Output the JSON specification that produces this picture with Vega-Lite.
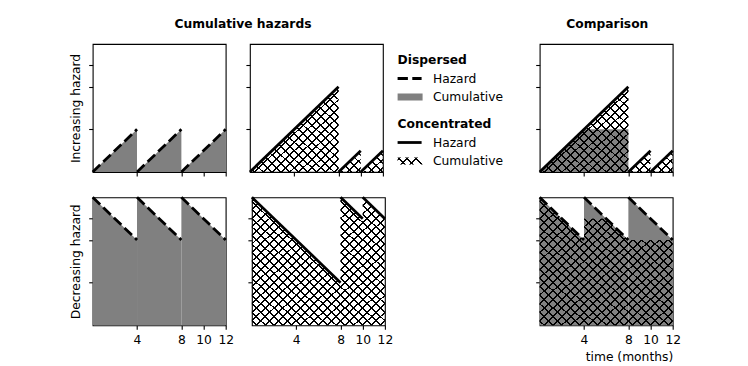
{
"$schema":"https://vega.github.io/schema/vega-lite/v6.json",
"background":"white",
"padding":{"left":67.7,"top":18,"right":5,"bottom":5},
"datasets":{
"dispInc":[{"seg":1,"t":0,"h":0},{"seg":1,"t":4,"h":1},{"seg":2,"t":4,"h":0},{"seg":2,"t":8,"h":1},{"seg":3,"t":8,"h":0},{"seg":3,"t":12,"h":1}],
"dispDec":[{"seg":1,"t":0,"h":3},{"seg":1,"t":4,"h":2},{"seg":2,"t":4,"h":3},{"seg":2,"t":8,"h":2},{"seg":3,"t":8,"h":3},{"seg":3,"t":12,"h":2}],
"concInc":[{"seg":1,"t":0,"h":0},{"seg":1,"t":8,"h":2},{"seg":2,"t":8,"h":0},{"seg":2,"t":10,"h":0.5},{"seg":3,"t":10,"h":0},{"seg":3,"t":12,"h":0.5}],
"concDec":[{"seg":1,"t":0,"h":3},{"seg":1,"t":8,"h":1},{"seg":2,"t":8,"h":3},{"seg":2,"t":10,"h":2.5},{"seg":3,"t":10,"h":3},{"seg":3,"t":12,"h":2.5}],
"cmpInc":[{"t":0,"h":0},{"t":4,"h":1},{"t":8,"h":1}],
"cmpDec":[{"t":0,"h":3},{"t":4,"h":2},{"t":4,"h":2.5},{"t":6,"h":2.5},{"t":8,"h":2},{"t":12,"h":2}],
"legD":[{"slot":"title","label":"Dispersed"},{"slot":"haz","label":"Hazard"},{"slot":"cum","label":"Cumulative"}],
"legC":[{"slot":"title","label":"Concentrated"},{"slot":"haz","label":"Hazard"},{"slot":"cum","label":"Cumulative"}]
},
"config":{
"font":"DejaVu Sans",
"view":{"stroke":"black","strokeWidth":1.1},
"axis":{"domain":false,"grid":false,"tickColor":"black","tickWidth":1.1,"tickSize":4,"labelFont":"DejaVu Sans","labelFontSize":12.3,"labelColor":"black","labelPadding":4,"labelOverlap":false,"labelFlush":false,"titleFont":"DejaVu Sans","titleFontSize":12.3,"titleFontWeight":"normal","titleColor":"black","titlePadding":6},
"title":{"font":"DejaVu Sans","fontSize":12.3,"fontWeight":"bold","color":"black","anchor":"middle","offset":13},
"text":{"font":"DejaVu Sans","fontSize":12.3,"color":"black"}
},
"spacing":1,
"hconcat":[
{"title":{"text":"Cumulative hazards","dx":12},"spacing":11.3,"vconcat":[
 {"spacing":10.2,"hconcat":[
  {"width":133,"height":128,"data":{"name":"dispInc"},
   "encoding":{"x":{"field":"t","type":"quantitative","scale":{"domain":[0,12],"nice":false},"axis":{"values":[4,8,10,12],"labels":false,"title":null}},
     "y":{"field":"h","type":"quantitative","stack":null,"scale":{"domain":[0,3],"nice":false},"axis":{"values":[1,2,2.5],"labels":false,"title":"Increasing hazard"}}},
   "layer":[
    {"mark":{"type":"area","fill":"#808080"},"encoding":{"detail":{"field":"seg"}}},
    {"mark":{"type":"line","color":"black","strokeWidth":2.78,"strokeDash":[10.3,4.4],"strokeCap":"butt"},"encoding":{"detail":{"field":"seg"}}}
   ]},
  {"width":133,"height":128,"data":{"name":"concInc"},
   "encoding":{"x":{"field":"t","type":"quantitative","scale":{"domain":[0,12],"nice":false},"axis":{"values":[4,8,10,12],"labels":false,"title":null}},
     "y":{"field":"h","type":"quantitative","stack":null,"scale":{"domain":[0,3],"nice":false},"axis":{"values":[1,2,2.5],"labels":false,"title":null}}},
   "layer":[
    {"transform":[{"filter":"datum.seg === 1"}],"mark":{"type":"area","fill":{"gradient":"linear","x1":0,"y1":0,"x2":1,"y2":1,"stops":[
{"offset":0.02,"color":"transparent"},{"offset":0.02,"color":"#000"},{"offset":0.031,"color":"#000"},{"offset":0.031,"color":"transparent"},
{"offset":0.07,"color":"transparent"},{"offset":0.07,"color":"#000"},{"offset":0.081,"color":"#000"},{"offset":0.081,"color":"transparent"},
{"offset":0.12,"color":"transparent"},{"offset":0.12,"color":"#000"},{"offset":0.131,"color":"#000"},{"offset":0.131,"color":"transparent"},
{"offset":0.17,"color":"transparent"},{"offset":0.17,"color":"#000"},{"offset":0.181,"color":"#000"},{"offset":0.181,"color":"transparent"},
{"offset":0.22,"color":"transparent"},{"offset":0.22,"color":"#000"},{"offset":0.231,"color":"#000"},{"offset":0.231,"color":"transparent"},
{"offset":0.27,"color":"transparent"},{"offset":0.27,"color":"#000"},{"offset":0.281,"color":"#000"},{"offset":0.281,"color":"transparent"},
{"offset":0.32,"color":"transparent"},{"offset":0.32,"color":"#000"},{"offset":0.331,"color":"#000"},{"offset":0.331,"color":"transparent"},
{"offset":0.37,"color":"transparent"},{"offset":0.37,"color":"#000"},{"offset":0.381,"color":"#000"},{"offset":0.381,"color":"transparent"},
{"offset":0.42,"color":"transparent"},{"offset":0.42,"color":"#000"},{"offset":0.431,"color":"#000"},{"offset":0.431,"color":"transparent"},
{"offset":0.47,"color":"transparent"},{"offset":0.47,"color":"#000"},{"offset":0.481,"color":"#000"},{"offset":0.481,"color":"transparent"},
{"offset":0.52,"color":"transparent"},{"offset":0.52,"color":"#000"},{"offset":0.531,"color":"#000"},{"offset":0.531,"color":"transparent"},
{"offset":0.57,"color":"transparent"},{"offset":0.57,"color":"#000"},{"offset":0.581,"color":"#000"},{"offset":0.581,"color":"transparent"},
{"offset":0.62,"color":"transparent"},{"offset":0.62,"color":"#000"},{"offset":0.631,"color":"#000"},{"offset":0.631,"color":"transparent"},
{"offset":0.67,"color":"transparent"},{"offset":0.67,"color":"#000"},{"offset":0.681,"color":"#000"},{"offset":0.681,"color":"transparent"},
{"offset":0.72,"color":"transparent"},{"offset":0.72,"color":"#000"},{"offset":0.731,"color":"#000"},{"offset":0.731,"color":"transparent"},
{"offset":0.77,"color":"transparent"},{"offset":0.77,"color":"#000"},{"offset":0.781,"color":"#000"},{"offset":0.781,"color":"transparent"},
{"offset":0.82,"color":"transparent"},{"offset":0.82,"color":"#000"},{"offset":0.831,"color":"#000"},{"offset":0.831,"color":"transparent"},
{"offset":0.87,"color":"transparent"},{"offset":0.87,"color":"#000"},{"offset":0.881,"color":"#000"},{"offset":0.881,"color":"transparent"},
{"offset":0.92,"color":"transparent"},{"offset":0.92,"color":"#000"},{"offset":0.931,"color":"#000"},{"offset":0.931,"color":"transparent"},
{"offset":0.97,"color":"transparent"},{"offset":0.97,"color":"#000"},{"offset":0.981,"color":"#000"},{"offset":0.981,"color":"transparent"}]}}},
    {"transform":[{"filter":"datum.seg === 1"}],"mark":{"type":"area","fill":{"gradient":"linear","x1":1,"y1":0,"x2":0,"y2":1,"stops":[
{"offset":0.02,"color":"transparent"},{"offset":0.02,"color":"#000"},{"offset":0.031,"color":"#000"},{"offset":0.031,"color":"transparent"},
{"offset":0.07,"color":"transparent"},{"offset":0.07,"color":"#000"},{"offset":0.081,"color":"#000"},{"offset":0.081,"color":"transparent"},
{"offset":0.12,"color":"transparent"},{"offset":0.12,"color":"#000"},{"offset":0.131,"color":"#000"},{"offset":0.131,"color":"transparent"},
{"offset":0.17,"color":"transparent"},{"offset":0.17,"color":"#000"},{"offset":0.181,"color":"#000"},{"offset":0.181,"color":"transparent"},
{"offset":0.22,"color":"transparent"},{"offset":0.22,"color":"#000"},{"offset":0.231,"color":"#000"},{"offset":0.231,"color":"transparent"},
{"offset":0.27,"color":"transparent"},{"offset":0.27,"color":"#000"},{"offset":0.281,"color":"#000"},{"offset":0.281,"color":"transparent"},
{"offset":0.32,"color":"transparent"},{"offset":0.32,"color":"#000"},{"offset":0.331,"color":"#000"},{"offset":0.331,"color":"transparent"},
{"offset":0.37,"color":"transparent"},{"offset":0.37,"color":"#000"},{"offset":0.381,"color":"#000"},{"offset":0.381,"color":"transparent"},
{"offset":0.42,"color":"transparent"},{"offset":0.42,"color":"#000"},{"offset":0.431,"color":"#000"},{"offset":0.431,"color":"transparent"},
{"offset":0.47,"color":"transparent"},{"offset":0.47,"color":"#000"},{"offset":0.481,"color":"#000"},{"offset":0.481,"color":"transparent"},
{"offset":0.52,"color":"transparent"},{"offset":0.52,"color":"#000"},{"offset":0.531,"color":"#000"},{"offset":0.531,"color":"transparent"},
{"offset":0.57,"color":"transparent"},{"offset":0.57,"color":"#000"},{"offset":0.581,"color":"#000"},{"offset":0.581,"color":"transparent"},
{"offset":0.62,"color":"transparent"},{"offset":0.62,"color":"#000"},{"offset":0.631,"color":"#000"},{"offset":0.631,"color":"transparent"},
{"offset":0.67,"color":"transparent"},{"offset":0.67,"color":"#000"},{"offset":0.681,"color":"#000"},{"offset":0.681,"color":"transparent"},
{"offset":0.72,"color":"transparent"},{"offset":0.72,"color":"#000"},{"offset":0.731,"color":"#000"},{"offset":0.731,"color":"transparent"},
{"offset":0.77,"color":"transparent"},{"offset":0.77,"color":"#000"},{"offset":0.781,"color":"#000"},{"offset":0.781,"color":"transparent"},
{"offset":0.82,"color":"transparent"},{"offset":0.82,"color":"#000"},{"offset":0.831,"color":"#000"},{"offset":0.831,"color":"transparent"},
{"offset":0.87,"color":"transparent"},{"offset":0.87,"color":"#000"},{"offset":0.881,"color":"#000"},{"offset":0.881,"color":"transparent"},
{"offset":0.92,"color":"transparent"},{"offset":0.92,"color":"#000"},{"offset":0.931,"color":"#000"},{"offset":0.931,"color":"transparent"},
{"offset":0.97,"color":"transparent"},{"offset":0.97,"color":"#000"},{"offset":0.981,"color":"#000"},{"offset":0.981,"color":"transparent"}]}}},
    {"transform":[{"filter":"datum.seg > 1"}],"mark":{"type":"area","fill":{"gradient":"linear","x1":0,"y1":0,"x2":1,"y2":1,"stops":[
{"offset":0.08,"color":"transparent"},{"offset":0.08,"color":"#000"},{"offset":0.124,"color":"#000"},{"offset":0.124,"color":"transparent"},
{"offset":0.28,"color":"transparent"},{"offset":0.28,"color":"#000"},{"offset":0.324,"color":"#000"},{"offset":0.324,"color":"transparent"},
{"offset":0.48,"color":"transparent"},{"offset":0.48,"color":"#000"},{"offset":0.524,"color":"#000"},{"offset":0.524,"color":"transparent"},
{"offset":0.68,"color":"transparent"},{"offset":0.68,"color":"#000"},{"offset":0.724,"color":"#000"},{"offset":0.724,"color":"transparent"},
{"offset":0.88,"color":"transparent"},{"offset":0.88,"color":"#000"},{"offset":0.924,"color":"#000"},{"offset":0.924,"color":"transparent"}]}},"encoding":{"detail":{"field":"seg"}}},
    {"transform":[{"filter":"datum.seg > 1"}],"mark":{"type":"area","fill":{"gradient":"linear","x1":1,"y1":0,"x2":0,"y2":1,"stops":[
{"offset":0.08,"color":"transparent"},{"offset":0.08,"color":"#000"},{"offset":0.124,"color":"#000"},{"offset":0.124,"color":"transparent"},
{"offset":0.28,"color":"transparent"},{"offset":0.28,"color":"#000"},{"offset":0.324,"color":"#000"},{"offset":0.324,"color":"transparent"},
{"offset":0.48,"color":"transparent"},{"offset":0.48,"color":"#000"},{"offset":0.524,"color":"#000"},{"offset":0.524,"color":"transparent"},
{"offset":0.68,"color":"transparent"},{"offset":0.68,"color":"#000"},{"offset":0.724,"color":"#000"},{"offset":0.724,"color":"transparent"},
{"offset":0.88,"color":"transparent"},{"offset":0.88,"color":"#000"},{"offset":0.924,"color":"#000"},{"offset":0.924,"color":"transparent"}]}},"encoding":{"detail":{"field":"seg"}}},
    {"mark":{"type":"line","color":"black","strokeWidth":2.78,"strokeCap":"butt"},"encoding":{"detail":{"field":"seg"}}}
   ]}
 ]},
 {"spacing":10.2,"hconcat":[
  {"width":133,"height":128,"data":{"name":"dispDec"},
   "encoding":{"x":{"field":"t","type":"quantitative","scale":{"domain":[0,12],"nice":false},"axis":{"values":[4,8,10,12],"title":null}},
     "y":{"field":"h","type":"quantitative","stack":null,"scale":{"domain":[0,3],"nice":false},"axis":{"values":[1,2,2.5],"labels":false,"title":"Decreasing hazard"}}},
   "layer":[
    {"mark":{"type":"area","fill":"#808080"},"encoding":{"detail":{"field":"seg"}}},
    {"mark":{"type":"line","color":"black","strokeWidth":2.78,"strokeDash":[10.3,4.4],"strokeCap":"butt"},"encoding":{"detail":{"field":"seg"}}}
   ]},
  {"width":133,"height":128,"data":{"name":"concDec"},
   "encoding":{"x":{"field":"t","type":"quantitative","scale":{"domain":[0,12],"nice":false},"axis":{"values":[4,8,10,12],"title":null}},
     "y":{"field":"h","type":"quantitative","stack":null,"scale":{"domain":[0,3],"nice":false},"axis":{"values":[1,2,2.5],"labels":false,"title":null}}},
   "layer":[
    {"mark":{"type":"area","fill":{"gradient":"linear","x1":0,"y1":0,"x2":1,"y2":1,"stops":[
{"offset":0.012,"color":"transparent"},{"offset":0.012,"color":"#000"},{"offset":0.0195,"color":"#000"},{"offset":0.0195,"color":"transparent"},
{"offset":0.0453,"color":"transparent"},{"offset":0.0453,"color":"#000"},{"offset":0.0528,"color":"#000"},{"offset":0.0528,"color":"transparent"},
{"offset":0.0787,"color":"transparent"},{"offset":0.0787,"color":"#000"},{"offset":0.0862,"color":"#000"},{"offset":0.0862,"color":"transparent"},
{"offset":0.112,"color":"transparent"},{"offset":0.112,"color":"#000"},{"offset":0.1195,"color":"#000"},{"offset":0.1195,"color":"transparent"},
{"offset":0.1453,"color":"transparent"},{"offset":0.1453,"color":"#000"},{"offset":0.1528,"color":"#000"},{"offset":0.1528,"color":"transparent"},
{"offset":0.1787,"color":"transparent"},{"offset":0.1787,"color":"#000"},{"offset":0.1862,"color":"#000"},{"offset":0.1862,"color":"transparent"},
{"offset":0.212,"color":"transparent"},{"offset":0.212,"color":"#000"},{"offset":0.2195,"color":"#000"},{"offset":0.2195,"color":"transparent"},
{"offset":0.2453,"color":"transparent"},{"offset":0.2453,"color":"#000"},{"offset":0.2528,"color":"#000"},{"offset":0.2528,"color":"transparent"},
{"offset":0.2787,"color":"transparent"},{"offset":0.2787,"color":"#000"},{"offset":0.2862,"color":"#000"},{"offset":0.2862,"color":"transparent"},
{"offset":0.312,"color":"transparent"},{"offset":0.312,"color":"#000"},{"offset":0.3195,"color":"#000"},{"offset":0.3195,"color":"transparent"},
{"offset":0.3453,"color":"transparent"},{"offset":0.3453,"color":"#000"},{"offset":0.3528,"color":"#000"},{"offset":0.3528,"color":"transparent"},
{"offset":0.3787,"color":"transparent"},{"offset":0.3787,"color":"#000"},{"offset":0.3862,"color":"#000"},{"offset":0.3862,"color":"transparent"},
{"offset":0.412,"color":"transparent"},{"offset":0.412,"color":"#000"},{"offset":0.4195,"color":"#000"},{"offset":0.4195,"color":"transparent"},
{"offset":0.4453,"color":"transparent"},{"offset":0.4453,"color":"#000"},{"offset":0.4528,"color":"#000"},{"offset":0.4528,"color":"transparent"},
{"offset":0.4787,"color":"transparent"},{"offset":0.4787,"color":"#000"},{"offset":0.4862,"color":"#000"},{"offset":0.4862,"color":"transparent"},
{"offset":0.512,"color":"transparent"},{"offset":0.512,"color":"#000"},{"offset":0.5195,"color":"#000"},{"offset":0.5195,"color":"transparent"},
{"offset":0.5453,"color":"transparent"},{"offset":0.5453,"color":"#000"},{"offset":0.5528,"color":"#000"},{"offset":0.5528,"color":"transparent"},
{"offset":0.5787,"color":"transparent"},{"offset":0.5787,"color":"#000"},{"offset":0.5862,"color":"#000"},{"offset":0.5862,"color":"transparent"},
{"offset":0.612,"color":"transparent"},{"offset":0.612,"color":"#000"},{"offset":0.6195,"color":"#000"},{"offset":0.6195,"color":"transparent"},
{"offset":0.6453,"color":"transparent"},{"offset":0.6453,"color":"#000"},{"offset":0.6528,"color":"#000"},{"offset":0.6528,"color":"transparent"},
{"offset":0.6787,"color":"transparent"},{"offset":0.6787,"color":"#000"},{"offset":0.6862,"color":"#000"},{"offset":0.6862,"color":"transparent"},
{"offset":0.712,"color":"transparent"},{"offset":0.712,"color":"#000"},{"offset":0.7195,"color":"#000"},{"offset":0.7195,"color":"transparent"},
{"offset":0.7453,"color":"transparent"},{"offset":0.7453,"color":"#000"},{"offset":0.7528,"color":"#000"},{"offset":0.7528,"color":"transparent"},
{"offset":0.7787,"color":"transparent"},{"offset":0.7787,"color":"#000"},{"offset":0.7862,"color":"#000"},{"offset":0.7862,"color":"transparent"},
{"offset":0.812,"color":"transparent"},{"offset":0.812,"color":"#000"},{"offset":0.8195,"color":"#000"},{"offset":0.8195,"color":"transparent"},
{"offset":0.8453,"color":"transparent"},{"offset":0.8453,"color":"#000"},{"offset":0.8528,"color":"#000"},{"offset":0.8528,"color":"transparent"},
{"offset":0.8787,"color":"transparent"},{"offset":0.8787,"color":"#000"},{"offset":0.8862,"color":"#000"},{"offset":0.8862,"color":"transparent"},
{"offset":0.912,"color":"transparent"},{"offset":0.912,"color":"#000"},{"offset":0.9195,"color":"#000"},{"offset":0.9195,"color":"transparent"},
{"offset":0.9453,"color":"transparent"},{"offset":0.9453,"color":"#000"},{"offset":0.9528,"color":"#000"},{"offset":0.9528,"color":"transparent"},
{"offset":0.9787,"color":"transparent"},{"offset":0.9787,"color":"#000"},{"offset":0.9862,"color":"#000"},{"offset":0.9862,"color":"transparent"}]}}},
    {"mark":{"type":"area","fill":{"gradient":"linear","x1":1,"y1":0,"x2":0,"y2":1,"stops":[
{"offset":0.012,"color":"transparent"},{"offset":0.012,"color":"#000"},{"offset":0.0195,"color":"#000"},{"offset":0.0195,"color":"transparent"},
{"offset":0.0453,"color":"transparent"},{"offset":0.0453,"color":"#000"},{"offset":0.0528,"color":"#000"},{"offset":0.0528,"color":"transparent"},
{"offset":0.0787,"color":"transparent"},{"offset":0.0787,"color":"#000"},{"offset":0.0862,"color":"#000"},{"offset":0.0862,"color":"transparent"},
{"offset":0.112,"color":"transparent"},{"offset":0.112,"color":"#000"},{"offset":0.1195,"color":"#000"},{"offset":0.1195,"color":"transparent"},
{"offset":0.1453,"color":"transparent"},{"offset":0.1453,"color":"#000"},{"offset":0.1528,"color":"#000"},{"offset":0.1528,"color":"transparent"},
{"offset":0.1787,"color":"transparent"},{"offset":0.1787,"color":"#000"},{"offset":0.1862,"color":"#000"},{"offset":0.1862,"color":"transparent"},
{"offset":0.212,"color":"transparent"},{"offset":0.212,"color":"#000"},{"offset":0.2195,"color":"#000"},{"offset":0.2195,"color":"transparent"},
{"offset":0.2453,"color":"transparent"},{"offset":0.2453,"color":"#000"},{"offset":0.2528,"color":"#000"},{"offset":0.2528,"color":"transparent"},
{"offset":0.2787,"color":"transparent"},{"offset":0.2787,"color":"#000"},{"offset":0.2862,"color":"#000"},{"offset":0.2862,"color":"transparent"},
{"offset":0.312,"color":"transparent"},{"offset":0.312,"color":"#000"},{"offset":0.3195,"color":"#000"},{"offset":0.3195,"color":"transparent"},
{"offset":0.3453,"color":"transparent"},{"offset":0.3453,"color":"#000"},{"offset":0.3528,"color":"#000"},{"offset":0.3528,"color":"transparent"},
{"offset":0.3787,"color":"transparent"},{"offset":0.3787,"color":"#000"},{"offset":0.3862,"color":"#000"},{"offset":0.3862,"color":"transparent"},
{"offset":0.412,"color":"transparent"},{"offset":0.412,"color":"#000"},{"offset":0.4195,"color":"#000"},{"offset":0.4195,"color":"transparent"},
{"offset":0.4453,"color":"transparent"},{"offset":0.4453,"color":"#000"},{"offset":0.4528,"color":"#000"},{"offset":0.4528,"color":"transparent"},
{"offset":0.4787,"color":"transparent"},{"offset":0.4787,"color":"#000"},{"offset":0.4862,"color":"#000"},{"offset":0.4862,"color":"transparent"},
{"offset":0.512,"color":"transparent"},{"offset":0.512,"color":"#000"},{"offset":0.5195,"color":"#000"},{"offset":0.5195,"color":"transparent"},
{"offset":0.5453,"color":"transparent"},{"offset":0.5453,"color":"#000"},{"offset":0.5528,"color":"#000"},{"offset":0.5528,"color":"transparent"},
{"offset":0.5787,"color":"transparent"},{"offset":0.5787,"color":"#000"},{"offset":0.5862,"color":"#000"},{"offset":0.5862,"color":"transparent"},
{"offset":0.612,"color":"transparent"},{"offset":0.612,"color":"#000"},{"offset":0.6195,"color":"#000"},{"offset":0.6195,"color":"transparent"},
{"offset":0.6453,"color":"transparent"},{"offset":0.6453,"color":"#000"},{"offset":0.6528,"color":"#000"},{"offset":0.6528,"color":"transparent"},
{"offset":0.6787,"color":"transparent"},{"offset":0.6787,"color":"#000"},{"offset":0.6862,"color":"#000"},{"offset":0.6862,"color":"transparent"},
{"offset":0.712,"color":"transparent"},{"offset":0.712,"color":"#000"},{"offset":0.7195,"color":"#000"},{"offset":0.7195,"color":"transparent"},
{"offset":0.7453,"color":"transparent"},{"offset":0.7453,"color":"#000"},{"offset":0.7528,"color":"#000"},{"offset":0.7528,"color":"transparent"},
{"offset":0.7787,"color":"transparent"},{"offset":0.7787,"color":"#000"},{"offset":0.7862,"color":"#000"},{"offset":0.7862,"color":"transparent"},
{"offset":0.812,"color":"transparent"},{"offset":0.812,"color":"#000"},{"offset":0.8195,"color":"#000"},{"offset":0.8195,"color":"transparent"},
{"offset":0.8453,"color":"transparent"},{"offset":0.8453,"color":"#000"},{"offset":0.8528,"color":"#000"},{"offset":0.8528,"color":"transparent"},
{"offset":0.8787,"color":"transparent"},{"offset":0.8787,"color":"#000"},{"offset":0.8862,"color":"#000"},{"offset":0.8862,"color":"transparent"},
{"offset":0.912,"color":"transparent"},{"offset":0.912,"color":"#000"},{"offset":0.9195,"color":"#000"},{"offset":0.9195,"color":"transparent"},
{"offset":0.9453,"color":"transparent"},{"offset":0.9453,"color":"#000"},{"offset":0.9528,"color":"#000"},{"offset":0.9528,"color":"transparent"},
{"offset":0.9787,"color":"transparent"},{"offset":0.9787,"color":"#000"},{"offset":0.9862,"color":"#000"},{"offset":0.9862,"color":"transparent"}]}}},
    {"mark":{"type":"line","color":"black","strokeWidth":2.78,"strokeCap":"butt"},"encoding":{"detail":{"field":"seg"}}}
   ]}
 ]}
]},
{"spacing":0,"vconcat":[
 {"width":136.6,"height":62,"view":{"stroke":null},"data":{"name":"legD"},
  "encoding":{"y":{"field":"slot","type":"nominal","scale":{"type":"band","domain":["title","haz","cum"],"range":[6.75,62.25],"paddingInner":0.62,"paddingOuter":0.31},"axis":null}},
  "layer":[
   {"transform":[{"filter":"datum.slot === 'title'"}],"mark":{"type":"text","align":"left","baseline":"middle","fontWeight":"bold"},"encoding":{"x":{"value":2.9},"text":{"field":"label"}}},
   {"transform":[{"filter":"datum.slot !== 'title'"}],"mark":{"type":"text","align":"left","baseline":"middle"},"encoding":{"x":{"value":38.2},"text":{"field":"label"}}},
   {"transform":[{"filter":"datum.slot === 'haz'"}],"mark":{"type":"rule","color":"black","strokeWidth":2.78,"strokeDash":[10.3,4.4],"strokeCap":"butt"},"encoding":{"x":{"value":2.9},"x2":{"value":26.9}}},
   {"transform":[{"filter":"datum.slot === 'cum'"}],"mark":{"type":"rect","fill":"#808080"},"encoding":{"x":{"value":2.9},"x2":{"value":27.9}}}
  ]},
 {"width":136.6,"height":70,"view":{"stroke":null},"data":{"name":"legC"},
  "encoding":{"y":{"field":"slot","type":"nominal","scale":{"type":"band","domain":["title","haz","cum"],"range":[8.75,64.25],"paddingInner":0.62,"paddingOuter":0.31},"axis":null}},
  "layer":[
   {"transform":[{"filter":"datum.slot === 'title'"}],"mark":{"type":"text","align":"left","baseline":"middle","fontWeight":"bold"},"encoding":{"x":{"value":2.9},"text":{"field":"label"}}},
   {"transform":[{"filter":"datum.slot !== 'title'"}],"mark":{"type":"text","align":"left","baseline":"middle"},"encoding":{"x":{"value":38.2},"text":{"field":"label"}}},
   {"transform":[{"filter":"datum.slot === 'haz'"}],"mark":{"type":"rule","color":"black","strokeWidth":2.78,"strokeCap":"butt"},"encoding":{"x":{"value":2.9},"x2":{"value":26.9}}},
   {"transform":[{"filter":"datum.slot === 'cum'"}],"mark":{"type":"rect","fill":{"gradient":"linear","x1":0,"y1":0,"x2":1,"y2":0.28,"stops":[
{"offset":0.05,"color":"transparent"},{"offset":0.05,"color":"#000"},{"offset":0.118,"color":"#000"},{"offset":0.118,"color":"transparent"},
{"offset":0.365,"color":"transparent"},{"offset":0.365,"color":"#000"},{"offset":0.433,"color":"#000"},{"offset":0.433,"color":"transparent"},
{"offset":0.68,"color":"transparent"},{"offset":0.68,"color":"#000"},{"offset":0.748,"color":"#000"},{"offset":0.748,"color":"transparent"}]}},"encoding":{"x":{"value":2.9},"x2":{"value":27.9}}},
   {"transform":[{"filter":"datum.slot === 'cum'"}],"mark":{"type":"rect","fill":{"gradient":"linear","x1":0,"y1":0.28,"x2":1,"y2":0,"stops":[
{"offset":0.05,"color":"transparent"},{"offset":0.05,"color":"#000"},{"offset":0.118,"color":"#000"},{"offset":0.118,"color":"transparent"},
{"offset":0.365,"color":"transparent"},{"offset":0.365,"color":"#000"},{"offset":0.433,"color":"#000"},{"offset":0.433,"color":"transparent"},
{"offset":0.68,"color":"transparent"},{"offset":0.68,"color":"#000"},{"offset":0.748,"color":"#000"},{"offset":0.748,"color":"transparent"}]}},"encoding":{"x":{"value":2.9},"x2":{"value":27.9}}}
  ]}
]},
{"title":"Comparison","spacing":11.3,"vconcat":[
 {"width":133,"height":128,
  "encoding":{"x":{"field":"t","type":"quantitative","scale":{"domain":[0,12],"nice":false},"axis":{"values":[4,8,10,12],"labels":false,"title":null}},
     "y":{"field":"h","type":"quantitative","stack":null,"scale":{"domain":[0,3],"nice":false},"axis":{"values":[1,2,2.5],"labels":false,"title":null}}},
  "layer":[
   {"data":{"name":"cmpInc"},"mark":{"type":"area","fill":"#808080"}},
   {"data":{"name":"concInc"},"transform":[{"filter":"datum.seg === 1"}],"mark":{"type":"area","fill":{"gradient":"linear","x1":0,"y1":0,"x2":1,"y2":1,"stops":[
{"offset":0.02,"color":"transparent"},{"offset":0.02,"color":"#000"},{"offset":0.031,"color":"#000"},{"offset":0.031,"color":"transparent"},
{"offset":0.07,"color":"transparent"},{"offset":0.07,"color":"#000"},{"offset":0.081,"color":"#000"},{"offset":0.081,"color":"transparent"},
{"offset":0.12,"color":"transparent"},{"offset":0.12,"color":"#000"},{"offset":0.131,"color":"#000"},{"offset":0.131,"color":"transparent"},
{"offset":0.17,"color":"transparent"},{"offset":0.17,"color":"#000"},{"offset":0.181,"color":"#000"},{"offset":0.181,"color":"transparent"},
{"offset":0.22,"color":"transparent"},{"offset":0.22,"color":"#000"},{"offset":0.231,"color":"#000"},{"offset":0.231,"color":"transparent"},
{"offset":0.27,"color":"transparent"},{"offset":0.27,"color":"#000"},{"offset":0.281,"color":"#000"},{"offset":0.281,"color":"transparent"},
{"offset":0.32,"color":"transparent"},{"offset":0.32,"color":"#000"},{"offset":0.331,"color":"#000"},{"offset":0.331,"color":"transparent"},
{"offset":0.37,"color":"transparent"},{"offset":0.37,"color":"#000"},{"offset":0.381,"color":"#000"},{"offset":0.381,"color":"transparent"},
{"offset":0.42,"color":"transparent"},{"offset":0.42,"color":"#000"},{"offset":0.431,"color":"#000"},{"offset":0.431,"color":"transparent"},
{"offset":0.47,"color":"transparent"},{"offset":0.47,"color":"#000"},{"offset":0.481,"color":"#000"},{"offset":0.481,"color":"transparent"},
{"offset":0.52,"color":"transparent"},{"offset":0.52,"color":"#000"},{"offset":0.531,"color":"#000"},{"offset":0.531,"color":"transparent"},
{"offset":0.57,"color":"transparent"},{"offset":0.57,"color":"#000"},{"offset":0.581,"color":"#000"},{"offset":0.581,"color":"transparent"},
{"offset":0.62,"color":"transparent"},{"offset":0.62,"color":"#000"},{"offset":0.631,"color":"#000"},{"offset":0.631,"color":"transparent"},
{"offset":0.67,"color":"transparent"},{"offset":0.67,"color":"#000"},{"offset":0.681,"color":"#000"},{"offset":0.681,"color":"transparent"},
{"offset":0.72,"color":"transparent"},{"offset":0.72,"color":"#000"},{"offset":0.731,"color":"#000"},{"offset":0.731,"color":"transparent"},
{"offset":0.77,"color":"transparent"},{"offset":0.77,"color":"#000"},{"offset":0.781,"color":"#000"},{"offset":0.781,"color":"transparent"},
{"offset":0.82,"color":"transparent"},{"offset":0.82,"color":"#000"},{"offset":0.831,"color":"#000"},{"offset":0.831,"color":"transparent"},
{"offset":0.87,"color":"transparent"},{"offset":0.87,"color":"#000"},{"offset":0.881,"color":"#000"},{"offset":0.881,"color":"transparent"},
{"offset":0.92,"color":"transparent"},{"offset":0.92,"color":"#000"},{"offset":0.931,"color":"#000"},{"offset":0.931,"color":"transparent"},
{"offset":0.97,"color":"transparent"},{"offset":0.97,"color":"#000"},{"offset":0.981,"color":"#000"},{"offset":0.981,"color":"transparent"}]}}},
   {"data":{"name":"concInc"},"transform":[{"filter":"datum.seg === 1"}],"mark":{"type":"area","fill":{"gradient":"linear","x1":1,"y1":0,"x2":0,"y2":1,"stops":[
{"offset":0.02,"color":"transparent"},{"offset":0.02,"color":"#000"},{"offset":0.031,"color":"#000"},{"offset":0.031,"color":"transparent"},
{"offset":0.07,"color":"transparent"},{"offset":0.07,"color":"#000"},{"offset":0.081,"color":"#000"},{"offset":0.081,"color":"transparent"},
{"offset":0.12,"color":"transparent"},{"offset":0.12,"color":"#000"},{"offset":0.131,"color":"#000"},{"offset":0.131,"color":"transparent"},
{"offset":0.17,"color":"transparent"},{"offset":0.17,"color":"#000"},{"offset":0.181,"color":"#000"},{"offset":0.181,"color":"transparent"},
{"offset":0.22,"color":"transparent"},{"offset":0.22,"color":"#000"},{"offset":0.231,"color":"#000"},{"offset":0.231,"color":"transparent"},
{"offset":0.27,"color":"transparent"},{"offset":0.27,"color":"#000"},{"offset":0.281,"color":"#000"},{"offset":0.281,"color":"transparent"},
{"offset":0.32,"color":"transparent"},{"offset":0.32,"color":"#000"},{"offset":0.331,"color":"#000"},{"offset":0.331,"color":"transparent"},
{"offset":0.37,"color":"transparent"},{"offset":0.37,"color":"#000"},{"offset":0.381,"color":"#000"},{"offset":0.381,"color":"transparent"},
{"offset":0.42,"color":"transparent"},{"offset":0.42,"color":"#000"},{"offset":0.431,"color":"#000"},{"offset":0.431,"color":"transparent"},
{"offset":0.47,"color":"transparent"},{"offset":0.47,"color":"#000"},{"offset":0.481,"color":"#000"},{"offset":0.481,"color":"transparent"},
{"offset":0.52,"color":"transparent"},{"offset":0.52,"color":"#000"},{"offset":0.531,"color":"#000"},{"offset":0.531,"color":"transparent"},
{"offset":0.57,"color":"transparent"},{"offset":0.57,"color":"#000"},{"offset":0.581,"color":"#000"},{"offset":0.581,"color":"transparent"},
{"offset":0.62,"color":"transparent"},{"offset":0.62,"color":"#000"},{"offset":0.631,"color":"#000"},{"offset":0.631,"color":"transparent"},
{"offset":0.67,"color":"transparent"},{"offset":0.67,"color":"#000"},{"offset":0.681,"color":"#000"},{"offset":0.681,"color":"transparent"},
{"offset":0.72,"color":"transparent"},{"offset":0.72,"color":"#000"},{"offset":0.731,"color":"#000"},{"offset":0.731,"color":"transparent"},
{"offset":0.77,"color":"transparent"},{"offset":0.77,"color":"#000"},{"offset":0.781,"color":"#000"},{"offset":0.781,"color":"transparent"},
{"offset":0.82,"color":"transparent"},{"offset":0.82,"color":"#000"},{"offset":0.831,"color":"#000"},{"offset":0.831,"color":"transparent"},
{"offset":0.87,"color":"transparent"},{"offset":0.87,"color":"#000"},{"offset":0.881,"color":"#000"},{"offset":0.881,"color":"transparent"},
{"offset":0.92,"color":"transparent"},{"offset":0.92,"color":"#000"},{"offset":0.931,"color":"#000"},{"offset":0.931,"color":"transparent"},
{"offset":0.97,"color":"transparent"},{"offset":0.97,"color":"#000"},{"offset":0.981,"color":"#000"},{"offset":0.981,"color":"transparent"}]}}},
   {"data":{"name":"concInc"},"transform":[{"filter":"datum.seg > 1"}],"mark":{"type":"area","fill":{"gradient":"linear","x1":0,"y1":0,"x2":1,"y2":1,"stops":[
{"offset":0.08,"color":"transparent"},{"offset":0.08,"color":"#000"},{"offset":0.124,"color":"#000"},{"offset":0.124,"color":"transparent"},
{"offset":0.28,"color":"transparent"},{"offset":0.28,"color":"#000"},{"offset":0.324,"color":"#000"},{"offset":0.324,"color":"transparent"},
{"offset":0.48,"color":"transparent"},{"offset":0.48,"color":"#000"},{"offset":0.524,"color":"#000"},{"offset":0.524,"color":"transparent"},
{"offset":0.68,"color":"transparent"},{"offset":0.68,"color":"#000"},{"offset":0.724,"color":"#000"},{"offset":0.724,"color":"transparent"},
{"offset":0.88,"color":"transparent"},{"offset":0.88,"color":"#000"},{"offset":0.924,"color":"#000"},{"offset":0.924,"color":"transparent"}]}},"encoding":{"detail":{"field":"seg"}}},
   {"data":{"name":"concInc"},"transform":[{"filter":"datum.seg > 1"}],"mark":{"type":"area","fill":{"gradient":"linear","x1":1,"y1":0,"x2":0,"y2":1,"stops":[
{"offset":0.08,"color":"transparent"},{"offset":0.08,"color":"#000"},{"offset":0.124,"color":"#000"},{"offset":0.124,"color":"transparent"},
{"offset":0.28,"color":"transparent"},{"offset":0.28,"color":"#000"},{"offset":0.324,"color":"#000"},{"offset":0.324,"color":"transparent"},
{"offset":0.48,"color":"transparent"},{"offset":0.48,"color":"#000"},{"offset":0.524,"color":"#000"},{"offset":0.524,"color":"transparent"},
{"offset":0.68,"color":"transparent"},{"offset":0.68,"color":"#000"},{"offset":0.724,"color":"#000"},{"offset":0.724,"color":"transparent"},
{"offset":0.88,"color":"transparent"},{"offset":0.88,"color":"#000"},{"offset":0.924,"color":"#000"},{"offset":0.924,"color":"transparent"}]}},"encoding":{"detail":{"field":"seg"}}},
   {"data":{"name":"concInc"},"mark":{"type":"line","color":"black","strokeWidth":2.78,"strokeCap":"butt"},"encoding":{"detail":{"field":"seg"}}}
  ]},
 {"width":133,"height":128,
  "encoding":{"x":{"field":"t","type":"quantitative","scale":{"domain":[0,12],"nice":false},"axis":{"values":[4,8,10,12],"title":"time (months)","titleAnchor":"end","titlePadding":5}},
     "y":{"field":"h","type":"quantitative","stack":null,"scale":{"domain":[0,3],"nice":false},"axis":{"values":[1,2,2.5],"labels":false,"title":null}}},
  "layer":[
   {"data":{"name":"dispDec"},"mark":{"type":"area","fill":"#808080"},"encoding":{"detail":{"field":"seg"}}},
   {"data":{"name":"cmpDec"},"mark":{"type":"area","fill":{"gradient":"linear","x1":0,"y1":0,"x2":1,"y2":1,"stops":[
{"offset":0.012,"color":"transparent"},{"offset":0.012,"color":"#000"},{"offset":0.0195,"color":"#000"},{"offset":0.0195,"color":"transparent"},
{"offset":0.0453,"color":"transparent"},{"offset":0.0453,"color":"#000"},{"offset":0.0528,"color":"#000"},{"offset":0.0528,"color":"transparent"},
{"offset":0.0787,"color":"transparent"},{"offset":0.0787,"color":"#000"},{"offset":0.0862,"color":"#000"},{"offset":0.0862,"color":"transparent"},
{"offset":0.112,"color":"transparent"},{"offset":0.112,"color":"#000"},{"offset":0.1195,"color":"#000"},{"offset":0.1195,"color":"transparent"},
{"offset":0.1453,"color":"transparent"},{"offset":0.1453,"color":"#000"},{"offset":0.1528,"color":"#000"},{"offset":0.1528,"color":"transparent"},
{"offset":0.1787,"color":"transparent"},{"offset":0.1787,"color":"#000"},{"offset":0.1862,"color":"#000"},{"offset":0.1862,"color":"transparent"},
{"offset":0.212,"color":"transparent"},{"offset":0.212,"color":"#000"},{"offset":0.2195,"color":"#000"},{"offset":0.2195,"color":"transparent"},
{"offset":0.2453,"color":"transparent"},{"offset":0.2453,"color":"#000"},{"offset":0.2528,"color":"#000"},{"offset":0.2528,"color":"transparent"},
{"offset":0.2787,"color":"transparent"},{"offset":0.2787,"color":"#000"},{"offset":0.2862,"color":"#000"},{"offset":0.2862,"color":"transparent"},
{"offset":0.312,"color":"transparent"},{"offset":0.312,"color":"#000"},{"offset":0.3195,"color":"#000"},{"offset":0.3195,"color":"transparent"},
{"offset":0.3453,"color":"transparent"},{"offset":0.3453,"color":"#000"},{"offset":0.3528,"color":"#000"},{"offset":0.3528,"color":"transparent"},
{"offset":0.3787,"color":"transparent"},{"offset":0.3787,"color":"#000"},{"offset":0.3862,"color":"#000"},{"offset":0.3862,"color":"transparent"},
{"offset":0.412,"color":"transparent"},{"offset":0.412,"color":"#000"},{"offset":0.4195,"color":"#000"},{"offset":0.4195,"color":"transparent"},
{"offset":0.4453,"color":"transparent"},{"offset":0.4453,"color":"#000"},{"offset":0.4528,"color":"#000"},{"offset":0.4528,"color":"transparent"},
{"offset":0.4787,"color":"transparent"},{"offset":0.4787,"color":"#000"},{"offset":0.4862,"color":"#000"},{"offset":0.4862,"color":"transparent"},
{"offset":0.512,"color":"transparent"},{"offset":0.512,"color":"#000"},{"offset":0.5195,"color":"#000"},{"offset":0.5195,"color":"transparent"},
{"offset":0.5453,"color":"transparent"},{"offset":0.5453,"color":"#000"},{"offset":0.5528,"color":"#000"},{"offset":0.5528,"color":"transparent"},
{"offset":0.5787,"color":"transparent"},{"offset":0.5787,"color":"#000"},{"offset":0.5862,"color":"#000"},{"offset":0.5862,"color":"transparent"},
{"offset":0.612,"color":"transparent"},{"offset":0.612,"color":"#000"},{"offset":0.6195,"color":"#000"},{"offset":0.6195,"color":"transparent"},
{"offset":0.6453,"color":"transparent"},{"offset":0.6453,"color":"#000"},{"offset":0.6528,"color":"#000"},{"offset":0.6528,"color":"transparent"},
{"offset":0.6787,"color":"transparent"},{"offset":0.6787,"color":"#000"},{"offset":0.6862,"color":"#000"},{"offset":0.6862,"color":"transparent"},
{"offset":0.712,"color":"transparent"},{"offset":0.712,"color":"#000"},{"offset":0.7195,"color":"#000"},{"offset":0.7195,"color":"transparent"},
{"offset":0.7453,"color":"transparent"},{"offset":0.7453,"color":"#000"},{"offset":0.7528,"color":"#000"},{"offset":0.7528,"color":"transparent"},
{"offset":0.7787,"color":"transparent"},{"offset":0.7787,"color":"#000"},{"offset":0.7862,"color":"#000"},{"offset":0.7862,"color":"transparent"},
{"offset":0.812,"color":"transparent"},{"offset":0.812,"color":"#000"},{"offset":0.8195,"color":"#000"},{"offset":0.8195,"color":"transparent"},
{"offset":0.8453,"color":"transparent"},{"offset":0.8453,"color":"#000"},{"offset":0.8528,"color":"#000"},{"offset":0.8528,"color":"transparent"},
{"offset":0.8787,"color":"transparent"},{"offset":0.8787,"color":"#000"},{"offset":0.8862,"color":"#000"},{"offset":0.8862,"color":"transparent"},
{"offset":0.912,"color":"transparent"},{"offset":0.912,"color":"#000"},{"offset":0.9195,"color":"#000"},{"offset":0.9195,"color":"transparent"},
{"offset":0.9453,"color":"transparent"},{"offset":0.9453,"color":"#000"},{"offset":0.9528,"color":"#000"},{"offset":0.9528,"color":"transparent"},
{"offset":0.9787,"color":"transparent"},{"offset":0.9787,"color":"#000"},{"offset":0.9862,"color":"#000"},{"offset":0.9862,"color":"transparent"}]}}},
   {"data":{"name":"cmpDec"},"mark":{"type":"area","fill":{"gradient":"linear","x1":1,"y1":0,"x2":0,"y2":1,"stops":[
{"offset":0.012,"color":"transparent"},{"offset":0.012,"color":"#000"},{"offset":0.0195,"color":"#000"},{"offset":0.0195,"color":"transparent"},
{"offset":0.0453,"color":"transparent"},{"offset":0.0453,"color":"#000"},{"offset":0.0528,"color":"#000"},{"offset":0.0528,"color":"transparent"},
{"offset":0.0787,"color":"transparent"},{"offset":0.0787,"color":"#000"},{"offset":0.0862,"color":"#000"},{"offset":0.0862,"color":"transparent"},
{"offset":0.112,"color":"transparent"},{"offset":0.112,"color":"#000"},{"offset":0.1195,"color":"#000"},{"offset":0.1195,"color":"transparent"},
{"offset":0.1453,"color":"transparent"},{"offset":0.1453,"color":"#000"},{"offset":0.1528,"color":"#000"},{"offset":0.1528,"color":"transparent"},
{"offset":0.1787,"color":"transparent"},{"offset":0.1787,"color":"#000"},{"offset":0.1862,"color":"#000"},{"offset":0.1862,"color":"transparent"},
{"offset":0.212,"color":"transparent"},{"offset":0.212,"color":"#000"},{"offset":0.2195,"color":"#000"},{"offset":0.2195,"color":"transparent"},
{"offset":0.2453,"color":"transparent"},{"offset":0.2453,"color":"#000"},{"offset":0.2528,"color":"#000"},{"offset":0.2528,"color":"transparent"},
{"offset":0.2787,"color":"transparent"},{"offset":0.2787,"color":"#000"},{"offset":0.2862,"color":"#000"},{"offset":0.2862,"color":"transparent"},
{"offset":0.312,"color":"transparent"},{"offset":0.312,"color":"#000"},{"offset":0.3195,"color":"#000"},{"offset":0.3195,"color":"transparent"},
{"offset":0.3453,"color":"transparent"},{"offset":0.3453,"color":"#000"},{"offset":0.3528,"color":"#000"},{"offset":0.3528,"color":"transparent"},
{"offset":0.3787,"color":"transparent"},{"offset":0.3787,"color":"#000"},{"offset":0.3862,"color":"#000"},{"offset":0.3862,"color":"transparent"},
{"offset":0.412,"color":"transparent"},{"offset":0.412,"color":"#000"},{"offset":0.4195,"color":"#000"},{"offset":0.4195,"color":"transparent"},
{"offset":0.4453,"color":"transparent"},{"offset":0.4453,"color":"#000"},{"offset":0.4528,"color":"#000"},{"offset":0.4528,"color":"transparent"},
{"offset":0.4787,"color":"transparent"},{"offset":0.4787,"color":"#000"},{"offset":0.4862,"color":"#000"},{"offset":0.4862,"color":"transparent"},
{"offset":0.512,"color":"transparent"},{"offset":0.512,"color":"#000"},{"offset":0.5195,"color":"#000"},{"offset":0.5195,"color":"transparent"},
{"offset":0.5453,"color":"transparent"},{"offset":0.5453,"color":"#000"},{"offset":0.5528,"color":"#000"},{"offset":0.5528,"color":"transparent"},
{"offset":0.5787,"color":"transparent"},{"offset":0.5787,"color":"#000"},{"offset":0.5862,"color":"#000"},{"offset":0.5862,"color":"transparent"},
{"offset":0.612,"color":"transparent"},{"offset":0.612,"color":"#000"},{"offset":0.6195,"color":"#000"},{"offset":0.6195,"color":"transparent"},
{"offset":0.6453,"color":"transparent"},{"offset":0.6453,"color":"#000"},{"offset":0.6528,"color":"#000"},{"offset":0.6528,"color":"transparent"},
{"offset":0.6787,"color":"transparent"},{"offset":0.6787,"color":"#000"},{"offset":0.6862,"color":"#000"},{"offset":0.6862,"color":"transparent"},
{"offset":0.712,"color":"transparent"},{"offset":0.712,"color":"#000"},{"offset":0.7195,"color":"#000"},{"offset":0.7195,"color":"transparent"},
{"offset":0.7453,"color":"transparent"},{"offset":0.7453,"color":"#000"},{"offset":0.7528,"color":"#000"},{"offset":0.7528,"color":"transparent"},
{"offset":0.7787,"color":"transparent"},{"offset":0.7787,"color":"#000"},{"offset":0.7862,"color":"#000"},{"offset":0.7862,"color":"transparent"},
{"offset":0.812,"color":"transparent"},{"offset":0.812,"color":"#000"},{"offset":0.8195,"color":"#000"},{"offset":0.8195,"color":"transparent"},
{"offset":0.8453,"color":"transparent"},{"offset":0.8453,"color":"#000"},{"offset":0.8528,"color":"#000"},{"offset":0.8528,"color":"transparent"},
{"offset":0.8787,"color":"transparent"},{"offset":0.8787,"color":"#000"},{"offset":0.8862,"color":"#000"},{"offset":0.8862,"color":"transparent"},
{"offset":0.912,"color":"transparent"},{"offset":0.912,"color":"#000"},{"offset":0.9195,"color":"#000"},{"offset":0.9195,"color":"transparent"},
{"offset":0.9453,"color":"transparent"},{"offset":0.9453,"color":"#000"},{"offset":0.9528,"color":"#000"},{"offset":0.9528,"color":"transparent"},
{"offset":0.9787,"color":"transparent"},{"offset":0.9787,"color":"#000"},{"offset":0.9862,"color":"#000"},{"offset":0.9862,"color":"transparent"}]}}},
   {"data":{"name":"dispDec"},"mark":{"type":"line","color":"black","strokeWidth":2.78,"strokeDash":[10.3,4.4],"strokeCap":"butt"},"encoding":{"detail":{"field":"seg"}}}
  ]}
]}
]
}
